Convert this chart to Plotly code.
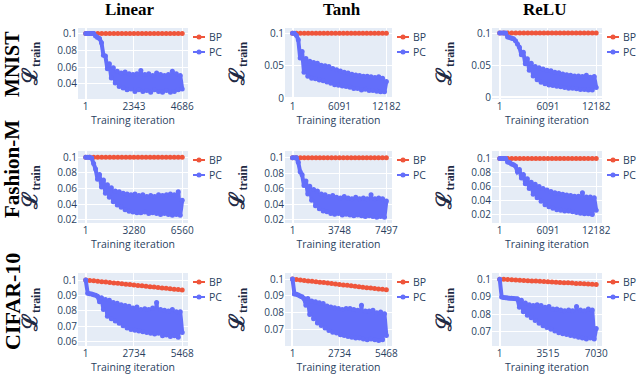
import numpy as np
import plotly.graph_objects as go

# rows = datasets, cols = activation functions
datasets = ["MNIST", "Fashion-M", "CIFAR-10"]
activations = ["Linear", "Tanh", "ReLU"]

n_iters = [[4686, 12182, 12182],
           [6560, 7497, 12182],
           [5468, 5468, 7030]]

x_ticktext = [[["1", "2343", "4686"], ["1", "6091", "12182"], ["1", "6091", "12182"]],
              [["1", "3280", "6560"], ["1", "3748", "7497"], ["1", "6091", "12182"]],
              [["1", "2734", "5468"], ["1", "2734", "5468"], ["1", "3515", "7030"]]]

y_tickvals = [[[0.04, 0.06, 0.08, 0.1], [0, 0.05, 0.1], [0, 0.05, 0.1]],
              [[0.02, 0.04, 0.06, 0.08, 0.1], [0.02, 0.04, 0.06, 0.08, 0.1], [0.02, 0.04, 0.06, 0.08, 0.1]],
              [[0.06, 0.07, 0.08, 0.09, 0.1], [0.07, 0.08, 0.09, 0.1], [0.07, 0.08, 0.09, 0.1]]]

# BP training loss
bp_flat = [0.1, 0.1, 0.1, 0.1, 0.1, 0.1, 0.1, 0.1, 0.1, 0.1, 0.1, 0.1, 0.1,
           0.1, 0.1, 0.1, 0.1, 0.1, 0.1, 0.1, 0.1, 0.1, 0.1, 0.1, 0.1]
bp_cifar_linear = [0.1, 0.0997, 0.0995, 0.0992, 0.0989, 0.0987, 0.0984, 0.0981, 0.0979,
                   0.0976, 0.0973, 0.0971, 0.0968, 0.0965, 0.0963, 0.096, 0.0957, 0.0955,
                   0.0952, 0.0949, 0.0947, 0.0944, 0.0941, 0.0939, 0.0936]
bp_cifar_tanh = [0.1, 0.0997, 0.0995, 0.0992, 0.0989, 0.0987, 0.0984, 0.0981, 0.0979,
                 0.0976, 0.0973, 0.0971, 0.0968, 0.0965, 0.0963, 0.096, 0.0957, 0.0955,
                 0.0952, 0.0949, 0.0947, 0.0944, 0.0941, 0.0939, 0.0936]
bp_cifar_relu = [0.1, 0.0999, 0.0998, 0.0996, 0.0995, 0.0994, 0.0993, 0.0991, 0.099,
                 0.0989, 0.0988, 0.0986, 0.0985, 0.0984, 0.0983, 0.0981, 0.098, 0.0979,
                 0.0978, 0.0976, 0.0975, 0.0974, 0.0973, 0.0971, 0.097]

# PC training loss, sampled along training (noisy band -> alternating high/low)
pc_mnist_linear = [0.1, 0.1, 0.1, 0.1, 0.1, 0.097, 0.095, 0.094,
                   0.089, 0.074, 0.073, 0.058, 0.064, 0.047, 0.059, 0.041, 0.055, 0.037,
                   0.053, 0.035, 0.054, 0.033, 0.052, 0.034, 0.051, 0.031, 0.052, 0.033,
                   0.056, 0.031, 0.051, 0.032, 0.052, 0.030, 0.050, 0.033, 0.053, 0.031,
                   0.051, 0.030, 0.050, 0.032, 0.051, 0.030, 0.055, 0.031, 0.052, 0.033,
                   0.050, 0.034]
pc_mnist_tanh = [0.1, 0.1, 0.097, 0.09, 0.062, 0.072, 0.04, 0.061, 0.034, 0.057,
                 0.031, 0.055, 0.03, 0.054, 0.028, 0.051, 0.027, 0.05, 0.025, 0.049,
                 0.023, 0.046, 0.021, 0.044, 0.02, 0.042, 0.019, 0.04, 0.018, 0.039,
                 0.017, 0.037, 0.015, 0.036, 0.015, 0.035, 0.013, 0.034, 0.014, 0.034,
                 0.012, 0.033, 0.012, 0.032, 0.011, 0.033, 0.010, 0.031, 0.010, 0.026]
pc_mnist_relu = [0.1, 0.1, 0.1, 0.1, 0.094, 0.093, 0.092, 0.091, 0.088, 0.083,
                 0.078, 0.066, 0.07, 0.052, 0.06, 0.042, 0.053, 0.033, 0.048, 0.027,
                 0.046, 0.023, 0.044, 0.021, 0.042, 0.019, 0.041, 0.018, 0.039, 0.017,
                 0.038, 0.016, 0.036, 0.015, 0.035, 0.014, 0.034, 0.014, 0.033, 0.013,
                 0.033, 0.012, 0.032, 0.012, 0.034, 0.011, 0.031, 0.011, 0.032, 0.015]
pc_fashion_linear = [0.1, 0.1, 0.1, 0.099, 0.092, 0.085, 0.072, 0.078, 0.062, 0.071,
                     0.054, 0.065, 0.049, 0.061, 0.043, 0.057, 0.039, 0.056, 0.036, 0.054,
                     0.033, 0.053, 0.031, 0.052, 0.030, 0.053, 0.029, 0.051, 0.029, 0.052,
                     0.030, 0.050, 0.028, 0.051, 0.029, 0.050, 0.028, 0.052, 0.027, 0.051,
                     0.028, 0.052, 0.027, 0.053, 0.026, 0.052, 0.027, 0.056, 0.026, 0.045]
pc_fashion_tanh = [0.1, 0.1, 0.1, 0.094, 0.082, 0.078, 0.064, 0.070, 0.053, 0.063,
                   0.045, 0.059, 0.038, 0.057, 0.034, 0.053, 0.031, 0.052, 0.030, 0.050,
                   0.028, 0.051, 0.027, 0.049, 0.028, 0.048, 0.026, 0.050, 0.027, 0.048,
                   0.026, 0.047, 0.025, 0.049, 0.026, 0.047, 0.025, 0.048, 0.024, 0.047,
                   0.025, 0.052, 0.024, 0.047, 0.023, 0.048, 0.024, 0.047, 0.023, 0.044]
pc_fashion_relu = [0.1, 0.1, 0.1, 0.1, 0.095, 0.094, 0.092, 0.091, 0.089, 0.081,
                   0.084, 0.072, 0.077, 0.064, 0.071, 0.057, 0.066, 0.049, 0.063, 0.044,
                   0.060, 0.039, 0.057, 0.034, 0.055, 0.031, 0.053, 0.029, 0.051, 0.027,
                   0.050, 0.026, 0.049, 0.025, 0.048, 0.025, 0.047, 0.024, 0.046, 0.023,
                   0.046, 0.022, 0.051, 0.021, 0.045, 0.021, 0.045, 0.020, 0.044, 0.026]
pc_cifar_linear = [0.1, 0.0915, 0.0912, 0.091, 0.0905, 0.0902, 0.0895, 0.086, 0.0885, 0.081,
                   0.0875, 0.0765, 0.087, 0.075, 0.0855, 0.0735, 0.085, 0.072, 0.084, 0.0705,
                   0.0835, 0.069, 0.083, 0.068, 0.082, 0.0675, 0.0825, 0.067, 0.081, 0.0665,
                   0.0815, 0.066, 0.081, 0.0655, 0.082, 0.065, 0.0855, 0.0655, 0.081, 0.064,
                   0.0805, 0.0645, 0.080, 0.0635, 0.081, 0.064, 0.0795, 0.063, 0.0795, 0.066]
pc_cifar_tanh = [0.1, 0.0912, 0.091, 0.0905, 0.09, 0.0895, 0.0885, 0.0845, 0.0885, 0.079,
                 0.087, 0.0765, 0.0865, 0.074, 0.086, 0.0725, 0.0855, 0.071, 0.084, 0.0695,
                 0.0835, 0.0685, 0.083, 0.068, 0.0825, 0.067, 0.082, 0.0665, 0.0825, 0.066,
                 0.0825, 0.0655, 0.082, 0.065, 0.0815, 0.065, 0.0845, 0.0645, 0.081, 0.064,
                 0.081, 0.0645, 0.0815, 0.064, 0.080, 0.0635, 0.0805, 0.064, 0.0795, 0.0665]
pc_cifar_relu = [0.1, 0.0898, 0.0896, 0.0895, 0.0893, 0.0892, 0.0891, 0.089, 0.0889, 0.0888,
                 0.084, 0.088, 0.0815, 0.0865, 0.0795, 0.0855, 0.078, 0.085, 0.0765, 0.0855,
                 0.075, 0.085, 0.0735, 0.084, 0.0725, 0.0845, 0.0715, 0.083, 0.0705, 0.083,
                 0.0695, 0.0825, 0.069, 0.082, 0.0685, 0.0825, 0.068, 0.082, 0.0675, 0.0845,
                 0.067, 0.0825, 0.0665, 0.082, 0.066, 0.083, 0.0665, 0.0825, 0.066, 0.072]

bp_data = [[bp_flat, bp_flat, bp_flat],
           [bp_flat, bp_flat, bp_flat],
           [bp_cifar_linear, bp_cifar_tanh, bp_cifar_relu]]
pc_data = [[pc_mnist_linear, pc_mnist_tanh, pc_mnist_relu],
           [pc_fashion_linear, pc_fashion_tanh, pc_fashion_relu],
           [pc_cifar_linear, pc_cifar_tanh, pc_cifar_relu]]

# ---- layout (pixel boxes of each panel in the 640x375 canvas) ----
W, H = 640, 375
col_px = [(78, 188), (285, 392), (492, 602)]
row_px = [(28, 99), (151, 223), (273, 346)]
y_ranges = [[[0.022, 0.1064], [-0.001, 0.108], [-0.003, 0.108]],
            [[0.016, 0.108], [0.0156, 0.1087], [0.008, 0.1105]],
            [[0.0573, 0.1046], [0.0603, 0.1036], [0.062, 0.1035]]]

BP_COLOR = "#EF553B"
PC_COLOR = "#636EFA"
FONT_COLOR = "#2a3f5f"
SERIF = "Liberation Serif"


def px_x(p):
    return p / W


def px_y(p):
    return 1 - p / H


fig = go.Figure()
shapes = []
annotations = []

for r in range(3):
    for c in range(3):
        k = r * 3 + c + 1
        xa = "x" if k == 1 else f"x{k}"
        ya = "y" if k == 1 else f"y{k}"
        n = n_iters[r][c]

        bp = bp_data[r][c]
        pc = pc_data[r][c]
        fig.add_trace(go.Scatter(x=np.linspace(1, n, len(bp)), y=bp, mode="lines+markers",
                                 line=dict(color=BP_COLOR, width=2),
                                 marker=dict(color=BP_COLOR, size=5),
                                 xaxis=xa, yaxis=ya, showlegend=False))
        fig.add_trace(go.Scatter(x=np.linspace(1, n, len(pc)), y=pc, mode="lines+markers",
                                 line=dict(color=PC_COLOR, width=4),
                                 marker=dict(color=PC_COLOR, size=5),
                                 xaxis=xa, yaxis=ya, showlegend=False))

        x0, x1 = col_px[c]
        y0, y1 = row_px[r]
        span = n - 1
        ticks = [int(t) for t in x_ticktext[r][c]]
        fig.layout[f"xaxis{'' if k == 1 else k}"] = dict(
            domain=[px_x(x0), px_x(x1)], anchor=ya,
            range=[1 - 0.08 * span, n + 0.06 * span],
            tickvals=ticks, ticktext=x_ticktext[r][c],
            tickfont=dict(size=10), title=dict(text="Training iteration", font=dict(size=10.5), standoff=4),
            automargin=False)
        fig.layout[f"yaxis{'' if k == 1 else k}"] = dict(
            domain=[px_y(y1), px_y(y0)], anchor=xa,
            range=y_ranges[r][c],
            tickvals=y_tickvals[r][c], ticktext=[f"{v:g}" for v in y_tickvals[r][c]],
            tickfont=dict(size=10),
            title=dict(text="<span style='font-size:21px'>ℒ</span><sub>train</sub>",
                       font=dict(family=SERIF, size=17, weight="bold", color="#1f2a44")),
            automargin=False)

        # small legend box to the right of each panel
        for j, (name, col) in enumerate([("BP", BP_COLOR), ("PC", PC_COLOR)]):
            yy = px_y(y0 + 9 + 15 * j)
            shapes.append(dict(type="line", xref="paper", yref="paper",
                               x0=px_x(x1 + 5), x1=px_x(x1 + 17), y0=yy, y1=yy,
                               line=dict(color=col, width=2)))
            shapes.append(dict(type="circle", xref="paper", yref="paper",
                               xsizemode="pixel", ysizemode="pixel",
                               xanchor=px_x(x1 + 11), yanchor=yy,
                               x0=-2.5, x1=2.5, y0=-2.5, y1=2.5,
                               fillcolor=col, line=dict(width=0)))
            annotations.append(dict(text=name, x=px_x(x1 + 19), y=yy, xref="paper", yref="paper",
                                    xanchor="left", yanchor="middle", showarrow=False,
                                    font=dict(size=10.5, color=FONT_COLOR)))

# column titles
for name, cx in zip(activations, [130, 342, 544]):
    annotations.append(dict(text=name, x=px_x(cx), y=px_y(10), xref="paper", yref="paper",
                            xanchor="center", yanchor="middle", showarrow=False,
                            font=dict(family=SERIF, size=17, weight="bold", color="black")))

# row labels (rotated, close to the left edge)
for name, cy, fs in zip(datasets, [64, 169, 302], [20, 21, 22]):
    annotations.append(dict(text=name, x=px_x(12), y=px_y(cy), xref="paper", yref="paper",
                            xanchor="center", yanchor="middle", showarrow=False, textangle=-90,
                            borderpad=0,
                            font=dict(family=SERIF, size=fs, weight="bold", color="black")))

fig.update_layout(width=W, height=H, margin=dict(l=0, r=0, t=0, b=0),
                  template="plotly", plot_bgcolor="#E5ECF6", paper_bgcolor="white",
                  font=dict(color=FONT_COLOR),
                  shapes=shapes, annotations=annotations, showlegend=False)

# drop the page's default body margin so the figure sits at the window's corner
fig.write_html("out.html", config={"displayModeBar": False},
               post_script="document.body.style.margin='0';")
